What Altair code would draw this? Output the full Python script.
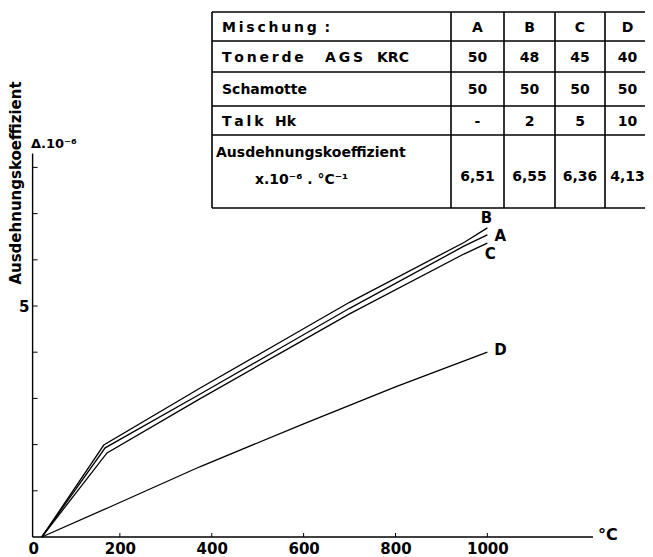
import altair as alt
import pandas as pd

# ---------------- data ----------------
temp_A = [30, 168, 374, 560, 700, 950, 1000]
val_A = [0.0, 1.93, 3.09, 4.15, 4.95, 6.30, 6.54]
temp_B = [30, 165, 374, 560, 700, 950, 1000]
val_B = [0.0, 1.99, 3.22, 4.28, 5.08, 6.38, 6.69]
temp_C = [30, 172, 374, 560, 700, 950, 1000]
val_C = [0.0, 1.82, 2.99, 4.04, 4.83, 6.13, 6.36]
temp_D = [30, 178, 374, 600, 800, 1000]
val_D = [0.0, 0.65, 1.52, 2.45, 3.25, 4.00]

x_ticks = [0, 200, 400, 600, 800, 1000]
y_ticks = [1, 2, 3, 4, 5, 6, 7, 8]
y_labels = [5]

table_mix = ["A", "B", "C", "D"]
tonerde = ["50", "48", "45", "40"]
schamotte = ["50", "50", "50", "50"]
talk = ["-", "2", "5", "10"]
koeff = ["6,51", "6,55", "6,36", "4,13"]

# ---------------- layout ----------------
W, H = 565, 527
X_MAX = 1230
PX_PER_UNIT = 46.2
Y_MAX = H / PX_PER_UNIT
Y_AXIS_AT = 10
Y_AXIS_TOP = 8.3
FONT = "DejaVu Sans"
TS = "\u2009"  # thin space for letter spacing

def spaced(word):
    return TS.join(list(word))

xs = alt.Scale(domain=[0, X_MAX], nice=False, zero=False)
ys = alt.Scale(domain=[0, Y_MAX], nice=False)

rows = []
for s, ts, vs in [("A", temp_A, val_A), ("B", temp_B, val_B), ("C", temp_C, val_C), ("D", temp_D, val_D)]:
    for i, (t, v) in enumerate(zip(ts, vs)):
        rows.append({"series": s, "t": t, "v": v, "order": i})
df = pd.DataFrame(rows)

lines = alt.Chart(df).mark_line(color="black", strokeWidth=1.3).encode(
    x=alt.X("t:Q", scale=xs, axis=alt.Axis(values=x_ticks, format="d", domain=False, ticks=False, grid=False, title=None,
                                          labelFont=FONT, labelFontWeight="bold", labelFontSize=15,
                                          labelColor="black", labelPadding=4)),
    y=alt.Y("v:Q", scale=ys, axis=alt.Axis(values=y_labels, domain=False, ticks=False, grid=False, title=None,
                                          labelFont=FONT, labelFontWeight="bold", labelFontSize=15,
                                          labelColor="black", labelPadding=-1)),
    detail="series:N",
    order="order:Q",
)

# axis lines
xline = alt.Chart(pd.DataFrame({"a": [Y_AXIS_AT], "b": [X_MAX], "y": [0]})).mark_rule(color="black", strokeWidth=1.4).encode(
    x=alt.X("a:Q", scale=xs), x2="b:Q", y=alt.Y("y:Q", scale=ys))
yline = alt.Chart(pd.DataFrame({"x": [Y_AXIS_AT], "a": [0], "b": [Y_AXIS_TOP]})).mark_rule(color="black", strokeWidth=1.4).encode(
    x=alt.X("x:Q", scale=xs), y=alt.Y("a:Q", scale=ys), y2="b:Q")

xt = alt.Chart(pd.DataFrame({"t": x_ticks[1:]})).mark_rule(color="black", strokeWidth=1).encode(
    x=alt.X("t:Q", scale=xs), y=alt.value(H), y2=alt.value(H - 4))
x0px = Y_AXIS_AT * W / X_MAX
yt = alt.Chart(pd.DataFrame({"v": y_ticks})).mark_rule(color="black", strokeWidth=1).encode(
    y=alt.Y("v:Q", scale=ys), x=alt.value(x0px), x2=alt.value(x0px + 5))

# curve labels at end points
ends = {"A": (temp_A[-1], val_A[-1]), "B": (temp_B[-1], val_B[-1]),
        "C": (temp_C[-1], val_C[-1]), "D": (temp_D[-1], val_D[-1])}
lbl_dx = {"B": -1, "A": 13, "C": 3, "D": 13}
lbl_dy = {"B": -10, "A": 1, "C": 11, "D": -2}
lbls = []
for s in ["B", "A", "C", "D"]:
    t, v = ends[s]
    lbls.append(
        alt.Chart(pd.DataFrame({"t": [t], "v": [v], "s": [s]})).mark_text(
            font=FONT, fontWeight="bold", fontSize=15, color="black", dx=lbl_dx[s], dy=lbl_dy[s]
        ).encode(x=alt.X("t:Q", scale=xs), y=alt.Y("v:Q", scale=ys), text="s:N")
    )

# ---------------- titles ----------------
one = pd.DataFrame({"k": [0]})
def txt(s, x, y, size=14, angle=0, align="left", baseline="middle"):
    return alt.Chart(one).mark_text(text=s, font=FONT, fontWeight="bold", fontSize=size, color="black",
                                    angle=angle, align=align, baseline=baseline).encode(x=alt.value(x), y=alt.value(y))

ytitle = txt("Ausdehnungskoeffizient", -12, 173, size=15, angle=270, align="center")
ylab = txt("\u0394.10\u207b\u2076", 3, 138, size=13, baseline="alphabetic")
xlab = txt("\u00b0C", 570, 525, size=16)

# ---------------- table (pixel positions inside the plot) ----------------
TL, TR = 184, 622
col_edges = [TL, 423, 476, 527, 577, TR]
row_edges = [2, 31, 62, 96, 125, 198]
hrules = pd.DataFrame({"x": [TL] * len(row_edges), "x2": [TR] * len(row_edges), "y": row_edges})
vrules = pd.DataFrame({"x": col_edges, "y": [row_edges[0]] * len(col_edges), "y2": [row_edges[-1]] * len(col_edges)})
th = alt.Chart(hrules).mark_rule(color="black", strokeWidth=1.6).encode(
    x=alt.X("x:Q", scale=None), x2="x2:Q", y=alt.Y("y:Q", scale=None))
tv = alt.Chart(vrules).mark_rule(color="black", strokeWidth=1.6).encode(
    x=alt.X("x:Q", scale=None), y=alt.Y("y:Q", scale=None), y2="y2:Q")

row_mid = [(row_edges[i] + row_edges[i + 1]) / 2 + 1 for i in range(4)]
cells = [
    {"x": TL + 10, "y": row_mid[0], "s": spaced("Mischung") + "\u00a0" + TS + ":"},
    {"x": TL + 10, "y": row_mid[1], "s": spaced("Tonerde")},
    {"x": TL + 113, "y": row_mid[1], "s": spaced("AGS")},
    {"x": TL + 165, "y": row_mid[1], "s": "KRC"},
    {"x": TL + 10, "y": row_mid[2], "s": "Schamotte"},
    {"x": TL + 10, "y": row_mid[3], "s": spaced("Talk")},
    {"x": TL + 63, "y": row_mid[3], "s": "Hk"},
    {"x": TL + 4, "y": 143, "s": "Ausdehnungskoeffizient"},
    {"x": TL + 43, "y": 170, "s": "x.10\u207b\u2076 . \u00b0C\u207b\u00b9"},
]
ldf = pd.DataFrame(cells)
tleft = alt.Chart(ldf).mark_text(font=FONT, fontWeight="bold", fontSize=14, align="left", color="black").encode(
    x=alt.X("x:Q", scale=None), y=alt.Y("y:Q", scale=None), text="s:N")

col_mid = [(col_edges[i] + col_edges[i + 1]) / 2 for i in range(1, 5)]
vals = []
for r, rowvals in enumerate([table_mix, tonerde, schamotte, talk]):
    for c, v in enumerate(rowvals):
        vals.append({"x": col_mid[c], "y": row_mid[r], "s": v})
for c, v in enumerate(koeff):
    vals.append({"x": col_mid[c], "y": 167, "s": v})
cdf = pd.DataFrame(vals)
tcenter = alt.Chart(cdf).mark_text(font=FONT, fontWeight="bold", fontSize=14, align="center", color="black").encode(
    x=alt.X("x:Q", scale=None), y=alt.Y("y:Q", scale=None), text="s:N")

chart = alt.layer(
    lines, xline, yline, xt, yt, *lbls, ytitle, ylab, xlab, th, tv, tleft, tcenter
).properties(
    width=W, height=H,
    autosize=alt.AutoSizeParams(type="none"),
    padding={"left": 20, "top": 2, "right": 52, "bottom": 20},
).configure(background="white").configure_view(stroke=None)

chart.save("out.html", embed_options={"renderer": "svg", "actions": False})
